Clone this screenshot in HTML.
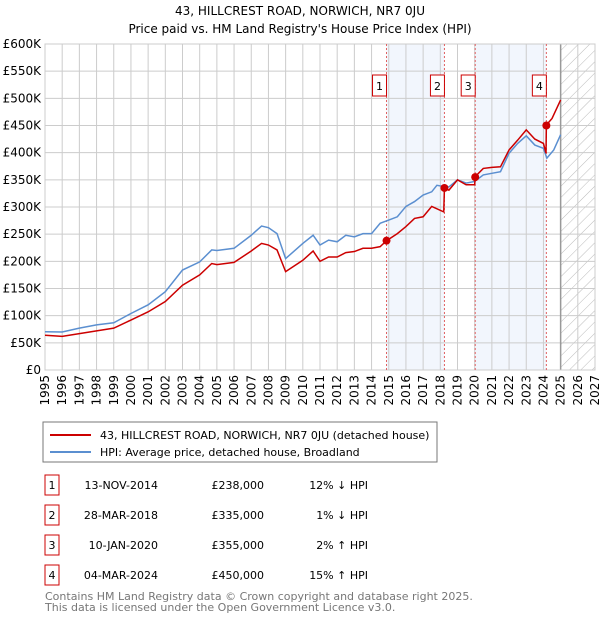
<!DOCTYPE html>
<html><head><meta charset="utf-8"><style>
body{margin:0;background:#fff;font-family:"DejaVu Sans","Liberation Sans",sans-serif;}
#wrap{position:relative;width:600px;height:620px;overflow:hidden}
</style></head><body><div id="wrap">
<svg id="svg" width="600" height="620" xmlns="http://www.w3.org/2000/svg" font-family="DejaVu Sans, Liberation Sans, sans-serif">
<text x="300" y="15" text-anchor="middle" font-size="12" fill="#000">43, HILLCREST ROAD, NORWICH, NR7 0JU</text>
<text x="300" y="33" text-anchor="middle" font-size="12" fill="#000">Price paid vs. HM Land Registry's House Price Index (HPI)</text>
<g id="plot"></g>
<rect x="43" y="422" width="394" height="40" fill="#fff" stroke="#777"/>
<line x1="50" y1="435" x2="91" y2="435" stroke="#cc0000" stroke-width="2"/>
<text x="100" y="439" font-size="11">43, HILLCREST ROAD, NORWICH, NR7 0JU (detached house)</text>
<line x1="50" y1="452" x2="91" y2="452" stroke="#5b8fd0" stroke-width="2"/>
<text x="100" y="456" font-size="11">HPI: Average price, detached house, Broadland</text>
<g id="table" font-size="11"></g>
<text x="45" y="600" font-size="11" fill="#777">Contains HM Land Registry data © Crown copyright and database right 2025.</text>
<text x="45" y="611" font-size="11" fill="#777">This data is licensed under the Open Government Licence v3.0.</text>
</svg></div>
<script>
const hpiYears=[1995,1996,1997,1998,1999,2000,2001,2002,2003,2004,2004.7,2005,2006,2007,2007.6,2008,2008.5,2009,2010,2010.6,2011,2011.5,2012,2012.5,2013,2013.5,2014,2014.5,2015,2015.5,2016,2016.5,2017,2017.5,2017.8,2018.3,2018.5,2019,2019.5,2020,2020.5,2021,2021.5,2022,2022.5,2023,2023.5,2024,2024.2,2024.6,2025];
const hpiValues=[70.5,70,77,83,87,104,120,144,184,199,221,220,224,248,265,262,251,205,233,248,230,239,236,248,245,251,251,270,276,282,301,310,322,328,340,337,337,350,344,347,359,362,365,399,417,431,414,408,390,405,433];
const redYears=[1995,1996,1997,1998,1999,2000,2001,2002,2003,2004,2004.7,2005,2006,2007,2007.6,2008,2008.5,2009,2010,2010.6,2011,2011.5,2012,2012.5,2013,2013.5,2014,2014.5,2014.87,2015.5,2016,2016.5,2017,2017.5,2018.2,2018.24,2018.5,2019,2019.5,2020,2020.03,2020.5,2021,2021.5,2022,2022.5,2023,2023.5,2024,2024.15,2024.17,2024.5,2025];
const redValues=[64,62,67,72,77,92,107,126,156,175,196,194,198,219,233,230,221,181,202,219,200,208,208,216,218,224,224,227,238,251,264,279,282,301,291,335,331,350,341,341,356,371,373,374,405,423,442,425,417,399,451,463,497];
const saleLabels=["1","2","3","4"];
const saleYears=[2014.87,2018.24,2020.03,2024.17];
const salePrices=[238,335,355,450];
const saleDates=["13-NOV-2014","28-MAR-2018","10-JAN-2020","04-MAR-2024"];
const salePriceText=["£238,000","£335,000","£355,000","£450,000"];
const saleHpiText=["12% ↓ HPI","1% ↓ HPI","2% ↑ HPI","15% ↑ HPI"];
const yTicks=[0,50,100,150,200,250,300,350,400,450,500,550,600];
const yTickLabels=["£0","£50K","£100K","£150K","£200K","£250K","£300K","£350K","£400K","£450K","£500K","£550K","£600K"];
const xTicks=[1995,1996,1997,1998,1999,2000,2001,2002,2003,2004,2005,2006,2007,2008,2009,2010,2011,2012,2013,2014,2015,2016,2017,2018,2019,2020,2021,2022,2023,2024,2025,2026,2027];

const NS="http://www.w3.org/2000/svg";
const L=45,R=595,T=44,B=370,X0=1995,X1=2027,YMAX=600,DATAEND=2025.0;
const xs=y=>L+(y-X0)/(X1-X0)*(R-L);
const ys=v=>B-v/YMAX*(B-T);
const plot=document.getElementById('plot');
function mk(tag,attrs,parent){const e=document.createElementNS(NS,tag);for(const k in attrs)e.setAttribute(k,attrs[k]);(parent||plot).appendChild(e);return e;}
for(let i=0;i<saleYears.length;i+=2){
 const r=mk('rect',{x:xs(saleYears[i]),y:T,width:xs(saleYears[i+1])-xs(saleYears[i]),height:B-T,fill:'#f2f6fd'});
 
 
}
const defs=mk('defs',{});
const pat=mk('pattern',{id:'hatch',width:8,height:8,patternUnits:'userSpaceOnUse',patternTransform:'rotate(45)'},defs);
mk('line',{x1:0,y1:0,x2:0,y2:8,stroke:'#bbb','stroke-width':1},pat);
const hr=mk('rect',{x:xs(DATAEND),y:T,width:R-xs(DATAEND),height:B-T,fill:'url(#hatch)'});


yTicks.forEach((v,i)=>{
 const g=mk('line',{x1:L,x2:R,y1:ys(v),y2:ys(v),stroke:'#ccc','stroke-width':1});
 
 
 const t=mk('text',{x:L-4,y:ys(v)+4,'text-anchor':'end','font-size':12,fill:'#000'});
 t.textContent=yTickLabels[i];
 
 
});
xTicks.forEach(yr=>{
 const g=mk('line',{x1:xs(yr),x2:xs(yr),y1:T,y2:B,stroke:'#ccc','stroke-width':1});
 
 
 const t=mk('text',{x:0,y:0,'text-anchor':'end','font-size':12,fill:'#000',transform:`translate(${xs(yr)+4},${B+5}) rotate(-90)`});
 t.textContent=yr;
 
 
});
const dl=mk('line',{x1:xs(DATAEND),x2:xs(DATAEND),y1:T,y2:B,stroke:'#999','stroke-width':1.5});


const bd=mk('rect',{x:L,y:T,width:R-L,height:B-T,fill:'none',stroke:'#ccc'});


saleYears.forEach(y=>{
 const l=mk('line',{x1:xs(y),x2:xs(y),y1:T,y2:B,stroke:'#e06060','stroke-width':1,'stroke-dasharray':'2,2'});
 
 
});
const hp=mk('polyline',{points:hpiYears.map((y,i)=>xs(y)+','+ys(hpiValues[i])).join(' '),fill:'none',stroke:'#5b8fd0','stroke-width':1.5});


const rp=mk('polyline',{points:redYears.map((y,i)=>xs(y)+','+ys(redValues[i])).join(' '),fill:'none',stroke:'#cc0000','stroke-width':1.5});


saleYears.forEach((y,i)=>{
 const c=mk('circle',{cx:xs(y),cy:ys(salePrices[i]),r:4,fill:'#cc0000'});
 
 
 const bx=xs(y)-14;
 const b=mk('rect',{x:bx,y:75,width:14,height:21,fill:'#fff',stroke:'#cc0000'});
 
 
 const t=mk('text',{x:bx+7,y:90,'text-anchor':'middle','font-size':11});
 t.textContent=saleLabels[i];
 
 
});
const tb=document.getElementById('table');
const rowY=[485,515,545,575];
saleLabels.forEach((s,i)=>{
 const b=mk('rect',{x:45,y:rowY[i]-10,width:14,height:20,fill:'#fff',stroke:'#cc0000'},tb);
 
 
 const cells=[[52,'middle',s],[158,'end',saleDates[i]],[264,'end',salePriceText[i]],[368,'end',saleHpiText[i]]];
 cells.forEach((c,j)=>{
  const t=mk('text',{x:c[0],y:rowY[i]+4,'text-anchor':c[1],'font-size':11},tb);
  t.textContent=c[2];
  
  
 });
});
</script></body></html>
